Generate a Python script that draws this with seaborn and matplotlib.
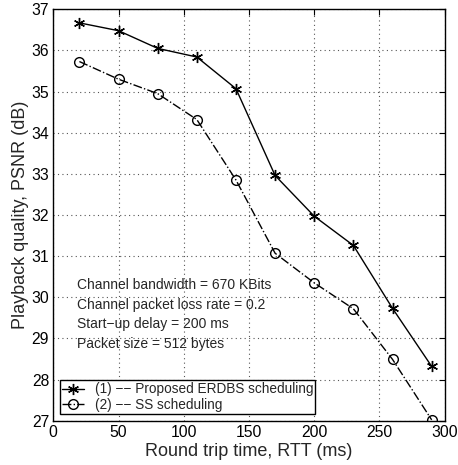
import matplotlib
matplotlib.use("Agg")
import matplotlib.pyplot as plt
import seaborn as sns
import pandas as pd

# Round trip time (ms) and playback PSNR (dB) for the two schedulers
rtt = [20, 50, 80, 110, 140, 170, 200, 230, 260, 290]
psnr_erdbs = [36.67, 36.48, 36.05, 35.84, 35.07, 32.96, 31.97, 31.26, 29.73, 28.32]
psnr_ss = [35.73, 35.30, 34.95, 34.32, 32.85, 31.07, 30.35, 29.72, 28.49, 27.02]

series_names = ["(1) \u2212\u2212 Proposed ERDBS scheduling", "(2) \u2212\u2212 SS scheduling"]
notes = [
    "Channel bandwidth = 670 KBits",
    "Channel packet loss rate = 0.2",
    "Start\u2212up delay = 200 ms",
    "Packet size = 512 bytes",
]
x_ticks = [0, 50, 100, 150, 200, 250, 300]
y_ticks = [27, 28, 29, 30, 31, 32, 33, 34, 35, 36, 37]

sns.set_style("white")
plt.rcParams["font.family"] = ["Liberation Sans", "DejaVu Sans"]

df = pd.DataFrame({
    "rtt": rtt * 2,
    "psnr": psnr_erdbs + psnr_ss,
    "scheme": [series_names[0]] * len(rtt) + [series_names[1]] * len(rtt),
})

fig = plt.figure(figsize=(4.58, 4.65), dpi=100)
ax = fig.add_axes([0.1164, 0.0953, 0.8546, 0.8847])

sns.lineplot(data=df[df.scheme == series_names[0]], x="rtt", y="psnr", ax=ax,
             color="black", linewidth=1.0, marker=(6, 2, 0), markersize=8,
             markeredgecolor="black", markeredgewidth=1.0,
             label=series_names[0], legend=False)
sns.lineplot(data=df[df.scheme == series_names[1]], x="rtt", y="psnr", ax=ax,
             color="black", linewidth=1.0, linestyle="-.", marker="o", markersize=7,
             markerfacecolor="none", markeredgecolor="black", markeredgewidth=1.0,
             label=series_names[1], legend=False)

ax.set_xlim(0, 300)
ax.set_ylim(27, 37)
ax.set_xticks(x_ticks)
ax.set_yticks(y_ticks)
ax.tick_params(direction="in", length=4, width=0.8, top=True, right=True,
               labelsize=11.3, colors="black", pad=3)
ax.grid(True, linestyle=(0, (1, 3)), color="#555555", linewidth=0.8)
for s in ax.spines.values():
    s.set_color("black")
    s.set_linewidth(1.0)

ax.set_xlabel("Round trip time, RTT (ms)", fontsize=13, labelpad=2)
ax.set_ylabel("Playback quality, PSNR (dB)", fontsize=13, labelpad=2)

for i, t in enumerate(notes):
    ax.text(18, 30.30 - i * 0.48, t, fontsize=10, va="center", ha="left")

leg = ax.legend(loc="lower left", bbox_to_anchor=(0.017, 0.017), fontsize=9.8,
                frameon=True, fancybox=False, framealpha=1, edgecolor="black",
                borderpad=0.15, labelspacing=0.1, handlelength=1.6,
                handletextpad=0.8, borderaxespad=0.0)
leg.get_frame().set_linewidth(1.0)

fig.savefig("out.png", dpi=100)
